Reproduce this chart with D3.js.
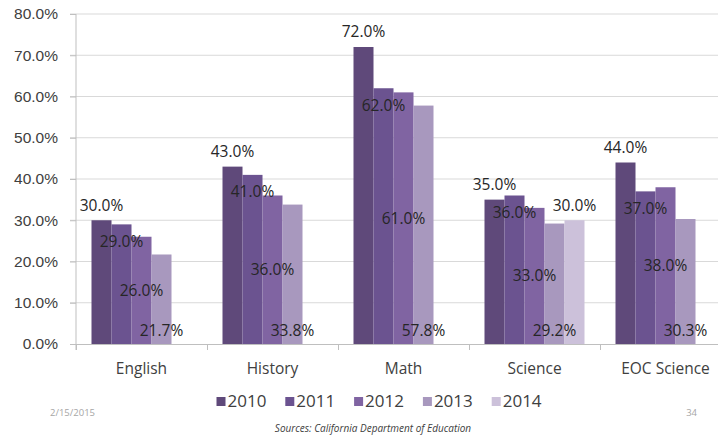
<!DOCTYPE html>
<html>
<head>
<meta charset="utf-8">
<script src="https://cdn.jsdelivr.net/npm/d3@7"></script>
<style>
    body { margin: 0; background: #fff; }
    svg { display: block; font-family: "Open Sans", sans-serif; }
    .grid line { stroke: #d9d9d9; }
    .axis path, .axis line { stroke: #bfbfbf; }
</style>
</head>
<body>
<div id="chart"></div>
<script>
// chart values
const subjects = ['English', 'History', 'Math', 'Science', 'EOC Science'];
const years = ['2010', '2011', '2012', '2013', '2014'];
const v2010 = [30.0, 43.0, 72.0, 35.0, 44.0];
const v2011 = [29.0, 41.0, 62.0, 36.0, 37.0];
const v2012 = [26.0, 36.0, 61.0, 33.0, 38.0];
const v2013 = [21.7, 33.8, 57.8, 29.2, 30.3];
const v2014 = [null, null, null, 30.0, null];
const yTicks = [0, 10, 20, 30, 40, 50, 60, 70, 80];
const colors = ['#5f497a', '#6b5390', '#8064a2', '#a898be', '#ccc1da'];

const seriesVals = [v2010, v2011, v2012, v2013, v2014];
// where each series puts its label: outside end, inside end, center, inside base, outside end
const labelPos = ['out', 'inEnd', 'mid', 'base', 'out'];

const width = 718, height = 437;
const plot = {left: 76, right: 731, top: 14, bottom: 344};

const svg = d3.select('#chart').append('svg')
    .attr('width', width)
    .attr('height', height);

const x = d3.scaleBand().domain(subjects).range([plot.left, plot.right]);
const xi = d3.scaleBand().domain(years).range([15.5, x.bandwidth() - 15.5]);
const y = d3.scaleLinear().domain([0, 80]).range([plot.bottom, plot.top]);

// gridlines
svg.append('g')
    .attr('class', 'grid')
    .selectAll('line')
    .data(yTicks.slice(1)).enter()
    .append('line')
    .attr('x1', plot.left - 6)
    .attr('x2', plot.right)
    .attr('y1', d => y(d))
    .attr('y2', d => y(d));

// y axis
const yAxis = svg.append('g')
    .attr('class', 'axis')
    .attr('transform', 'translate(' + plot.left + ',0)')
    .call(d3.axisLeft(y).tickValues(yTicks).tickSize(6).tickFormat(d => d.toFixed(1) + '%'));
yAxis.select('.domain').attr('d', 'M0,' + (plot.bottom + 6) + 'V' + plot.top);
yAxis.selectAll('text')
    .attr('x', -18)
    .style('font-size', '15.5px')
    .style('fill', '#404040');

// bars
const groups = svg.append('g').selectAll('g')
    .data(seriesVals).enter()
    .append('g')
    .attr('fill', (d, i) => colors[i]);

groups.each(function (vals, si) {
    d3.select(this).selectAll('rect')
        .data(vals.map((v, ci) => ({v: v, cat: subjects[ci]})).filter(d => d.v != null))
        .enter().append('rect')
        .attr('x', d => x(d.cat) + xi(years[si]))
        .attr('width', xi.bandwidth())
        .attr('y', d => y(d.v))
        .attr('height', d => y(0) - y(d.v));
});

// x axis baseline with ticks between categories
const xb = d3.scaleLinear().domain([0, subjects.length]).range([plot.left, plot.right]);
svg.append('g')
    .attr('class', 'axis')
    .attr('transform', 'translate(0,' + plot.bottom + ')')
    .call(d3.axisBottom(xb).tickValues(d3.range(0, subjects.length + 1)).tickSize(6).tickSizeOuter(0).tickFormat(''));

svg.append('g').selectAll('text')
    .data(subjects).enter()
    .append('text')
    .attr('x', d => x(d) + x.bandwidth() / 2)
    .attr('y', 369)
    .attr('dy', '0.35em')
    .attr('text-anchor', 'middle')
    .style('font-size', '15.5px')
    .style('fill', '#404040')
    .text(d => d);

// data labels
seriesVals.forEach((vals, si) => {
    const pos = labelPos[si];
    svg.append('g').selectAll('text')
        .data(vals.map((v, ci) => ({v: v, cat: subjects[ci]})).filter(d => d.v != null))
        .enter().append('text')
        .attr('x', d => x(d.cat) + xi(years[si]) + xi.bandwidth() / 2)
        .attr('y', d => {
            if (pos === 'out') return y(d.v) - 15;
            if (pos === 'inEnd') return y(d.v) + 17;
            if (pos === 'mid') return (y(d.v) + y(0)) / 2;
            return y(0) - 13.5;
        })
        .attr('dy', '0.35em')
        .attr('text-anchor', 'middle')
        .style('font-size', '15.5px')
        .style('fill', '#262626')
        .text(d => d.v.toFixed(1) + '%');
});

// legend
const legend = svg.append('g').selectAll('g')
    .data(years).enter()
    .append('g')
    .attr('transform', (d, i) => 'translate(' + (216.5 + i * 68.8) + ',401.5)');
legend.append('rect')
    .attr('x', 0).attr('y', -4.5)
    .attr('width', 9).attr('height', 9)
    .attr('fill', (d, i) => colors[i]);
legend.append('text')
    .attr('x', 11)
    .attr('dy', '0.35em')
    .style('font-size', '17px')
    .style('fill', '#404040')
    .text(d => d);

// footer
svg.append('text')
    .attr('x', 50).attr('y', 413).attr('dy', '0.35em')
    .style('font-size', '9.5px').style('fill', '#a6a6a6')
    .text('2/15/2015');
svg.append('text')
    .attr('x', 697).attr('y', 413).attr('dy', '0.35em')
    .attr('text-anchor', 'end')
    .style('font-size', '9.5px').style('fill', '#a6a6a6')
    .text('34');
svg.append('text')
    .attr('x', 373).attr('y', 428).attr('dy', '0.35em')
    .attr('text-anchor', 'middle')
    .style('font-size', '10px').style('font-style', 'italic').style('fill', '#404040')
    .text('Sources:  California Department of Education');
</script>
</body>
</html>
